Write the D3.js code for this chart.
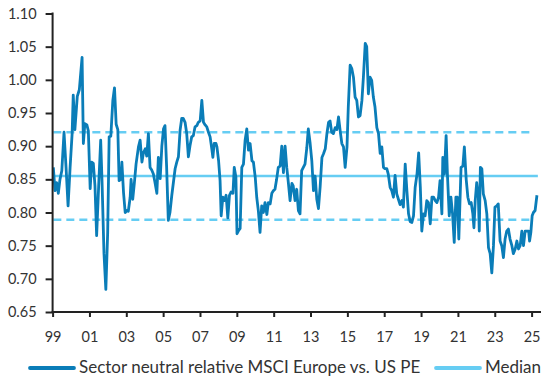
<!DOCTYPE html>
<html>
<head>
<meta charset="utf-8">
<script src="https://cdn.jsdelivr.net/npm/d3@7"></script>
<style>
  html, body { margin: 0; padding: 0; background: #fff; }
  svg { display: block; font-family: Lato, "Open Sans", sans-serif; }
</style>
</head>
<body>
<svg id="chart" width="549" height="378"></svg>
<script>
// ---- Data ----
const dates = [
1999.04,1999.13,1999.22,1999.31,1999.40,1999.50,1999.62,1999.73,1999.84,1999.95,
2000.06,2000.12,2000.21,2000.34,2000.45,2000.60,2000.67,2000.75,2000.86,2000.94,
2001.04,2001.12,2001.21,2001.30,2001.39,2001.50,2001.61,2001.68,2001.79,2001.89,
2001.99,2002.07,2002.16,2002.27,2002.36,2002.45,2002.54,2002.61,2002.71,2002.76,
2002.85,2002.94,2003.03,2003.11,2003.21,2003.26,2003.35,2003.44,2003.53,2003.66,
2003.75,2003.85,2003.93,2004.03,2004.11,2004.20,2004.29,2004.38,2004.47,2004.56,
2004.66,2004.74,2004.84,2004.93,2005.02,2005.10,2005.19,2005.28,2005.37,2005.47,
2005.56,2005.65,2005.74,2005.83,2005.92,2006.01,2006.09,2006.19,2006.28,2006.37,
2006.46,2006.55,2006.64,2006.73,2006.83,2006.91,2007.01,2007.10,2007.19,2007.28,
2007.37,2007.46,2007.55,2007.65,2007.70,2007.77,2007.87,2007.92,2008.01,2008.09,
2008.15,2008.24,2008.33,2008.42,2008.51,2008.60,2008.69,2008.79,2008.86,2008.95,
2009.01,2009.08,2009.18,2009.27,2009.36,2009.45,2009.54,2009.63,2009.72,2009.82,
2009.90,2010.00,2010.08,2010.17,2010.26,2010.35,2010.44,2010.53,2010.63,2010.71,
2010.81,2010.90,2010.99,2011.07,2011.16,2011.25,2011.35,2011.44,2011.53,2011.62,
2011.71,2011.80,2011.89,2011.99,2012.06,2012.16,2012.25,2012.34,2012.43,2012.52,
2012.61,2012.70,2012.80,2012.88,2012.98,2013.07,2013.16,2013.25,2013.34,2013.43,
2013.52,2013.62,2013.71,2013.80,2013.89,2013.98,2014.06,2014.15,2014.24,2014.34,
2014.43,2014.52,2014.61,2014.70,2014.79,2014.88,2014.98,2015.05,2015.15,2015.24,
2015.33,2015.42,2015.51,2015.60,2015.69,2015.79,2015.87,2015.97,2016.05,2016.14,
2016.23,2016.32,2016.41,2016.50,2016.60,2016.69,2016.78,2016.87,2016.96,2017.04,
2017.14,2017.22,2017.32,2017.41,2017.50,2017.59,2017.68,2017.77,2017.86,2017.96,
2018.04,2018.14,2018.23,2018.32,2018.41,2018.50,2018.59,2018.68,2018.78,2018.87,
2018.96,2019.04,2019.13,2019.22,2019.31,2019.40,2019.50,2019.59,2019.68,2019.77,
2019.86,2019.95,2020.03,2020.13,2020.18,2020.27,2020.36,2020.43,2020.53,2020.62,
2020.71,2020.80,2020.89,2020.97,2021.05,2021.12,2021.17,2021.27,2021.35,2021.45,
2021.54,2021.63,2021.72,2021.81,2021.87,2021.94,2022.02,2022.11,2022.16,2022.22,
2022.30,2022.38,2022.48,2022.57,2022.66,2022.75,2022.84,2022.93,2023.01,2023.11,
2023.19,2023.29,2023.38,2023.47,2023.56,2023.65,2023.74,2023.83,2023.93,2024.01,
2024.11,2024.20,2024.29,2024.38,2024.47,2024.56,2024.65,2024.75,2024.84,2024.89,
2024.96,2025.03,2025.10,2025.19,2025.29
];
const relativePE = [
0.868,0.833,0.845,0.829,0.850,0.863,0.921,0.868,0.810,0.868,
0.919,0.977,0.925,0.975,0.985,1.034,0.904,0.934,0.932,0.923,
0.836,0.876,0.874,0.840,0.765,0.840,0.909,0.850,0.738,0.684,
0.770,0.914,0.915,0.969,0.988,0.933,0.925,0.848,0.850,0.876,
0.830,0.800,0.803,0.802,0.823,0.850,0.820,0.845,0.873,0.899,
0.909,0.876,0.890,0.896,0.885,0.919,0.868,0.864,0.858,0.845,
0.829,0.883,0.851,0.900,0.926,0.931,0.868,0.788,0.800,0.826,
0.846,0.866,0.876,0.884,0.924,0.942,0.942,0.936,0.919,0.884,
0.901,0.914,0.916,0.929,0.931,0.936,0.938,0.969,0.936,0.932,
0.929,0.921,0.914,0.894,0.883,0.904,0.904,0.899,0.878,0.848,
0.795,0.823,0.818,0.826,0.792,0.826,0.831,0.829,0.868,0.853,
0.768,0.772,0.776,0.868,0.873,0.909,0.926,0.894,0.904,0.878,
0.876,0.853,0.823,0.802,0.770,0.810,0.800,0.815,0.797,0.815,
0.813,0.829,0.833,0.835,0.850,0.868,0.870,0.900,0.860,0.900,
0.868,0.844,0.818,0.844,0.840,0.818,0.835,0.803,0.798,0.863,
0.868,0.873,0.898,0.926,0.904,0.878,0.833,0.855,0.820,0.806,
0.838,0.883,0.889,0.896,0.919,0.936,0.938,0.921,0.919,0.928,
0.925,0.944,0.923,0.904,0.899,0.868,0.899,0.959,1.022,1.017,
1.004,0.974,0.969,0.944,0.946,0.969,1.004,1.055,1.050,0.979,
1.004,0.999,0.974,0.959,0.928,0.919,0.889,0.899,0.868,0.866,
0.866,0.858,0.838,0.833,0.823,0.856,0.828,0.820,0.812,0.818,
0.808,0.873,0.833,0.798,0.786,0.785,0.795,0.838,0.858,0.890,
0.838,0.772,0.798,0.795,0.818,0.815,0.783,0.823,0.823,0.818,
0.815,0.823,0.848,0.798,0.883,0.858,0.916,0.858,0.795,0.823,
0.798,0.755,0.823,0.823,0.760,0.823,0.868,0.870,0.899,0.850,
0.823,0.813,0.815,0.798,0.777,0.818,0.845,0.823,0.772,0.868,
0.866,0.828,0.818,0.798,0.747,0.738,0.709,0.750,0.808,0.810,
0.813,0.757,0.750,0.732,0.760,0.772,0.775,0.760,0.750,0.738,
0.745,0.757,0.745,0.750,0.772,0.750,0.772,0.772,0.772,0.757,
0.770,0.795,0.800,0.803,0.826
];
const medianValue = 0.855;
const upperBand = 0.921;
const lowerBand = 0.789;
const yTickValues = [0.65, 0.70, 0.75, 0.80, 0.85, 0.90, 0.95, 1.00, 1.05, 1.10];
const xTickYears = [1999, 2001, 2003, 2005, 2007, 2009, 2011, 2013, 2015, 2017, 2019, 2021, 2023, 2025];
const xTickLabels = ["99", "01", "03", "05", "07", "09", "11", "13", "15", "17", "19", "21", "23", "25"];
const seriesNames = ["Sector neutral relative MSCI Europe vs. US PE", "Median"];

// ---- Drawing ----
const colSeries = "#0a7db8";
const colMedian = "#66cdf3";
const svg = d3.select("#chart");

const x = d3.scaleLinear().domain([1999, 2025]).range([52.6, 531.6]);
const y = d3.scaleLinear().domain([0.65, 1.10]).range([312, 13.5]);

const first = dates[0], last = dates[dates.length - 1];

// bands and median
const bandLine = d3.line().x(d => x(d[0])).y(d => y(d[1]));
[upperBand, lowerBand].forEach(v => {
  svg.append("path")
    .attr("d", bandLine([[first, v], [last - 0.2, v]]))
    .attr("fill", "none").attr("stroke", colMedian)
    .attr("stroke-width", 2.6).attr("stroke-dasharray", "8,5");
});
svg.append("path")
  .attr("d", bandLine([[first, medianValue], [last + 0.05, medianValue]]))
  .attr("fill", "none").attr("stroke", colMedian).attr("stroke-width", 2.6);

// series
const line = d3.line().x((d, i) => x(dates[i])).y(d => y(d));
svg.append("path")
  .attr("d", line(relativePE))
  .attr("fill", "none").attr("stroke", colSeries)
  .attr("stroke-width", 2.8).attr("stroke-linejoin", "round");

// y axis
const yAxis = d3.axisLeft(y).tickValues(yTickValues).tickFormat(d3.format(".2f"))
  .tickSize(7).tickPadding(9);
const gy = svg.append("g").attr("transform", "translate(52.6,0)").call(yAxis);
gy.select(".domain").attr("stroke", "#222").attr("stroke-width", 2).attr("d", "M0,12.5V313");
gy.selectAll(".tick line").attr("stroke", "#222").attr("stroke-width", 2);
gy.selectAll(".tick text").attr("fill", "#333").style("font-size", "14.5px").style("font-family", "Lato, sans-serif");

// x axis
const xAxis = d3.axisBottom(x).tickValues(xTickYears)
  .tickFormat((d, i) => xTickLabels[i]).tickSize(5).tickPadding(15);
const gx = svg.append("g").attr("transform", "translate(0,312)").call(xAxis);
gx.select(".domain").attr("stroke", "#222").attr("stroke-width", 2).attr("d", "M51.6,0H541");
gx.selectAll(".tick line").attr("stroke", "#222").attr("stroke-width", 2);
gx.selectAll(".tick text").attr("fill", "#333").style("font-size", "14.5px").style("font-family", "Lato, sans-serif");

// legend
const legend = svg.append("g");
const items = [
  { name: seriesNames[0], color: colSeries, x0: 30 },
  { name: seriesNames[1], color: colMedian, x0: 436 }
];
items.forEach(it => {
  legend.append("line").attr("x1", it.x0).attr("x2", it.x0 + 44)
    .attr("y1", 368).attr("y2", 368)
    .attr("stroke", it.color).attr("stroke-width", 3.8).attr("stroke-linecap", "round");
  legend.append("text").attr("x", it.x0 + 49).attr("y", 373)
    .attr("fill", "#333").style("font-size", "17px").style("font-family", "Lato, sans-serif")
    .text(it.name);
});
</script>
</body>
</html>
